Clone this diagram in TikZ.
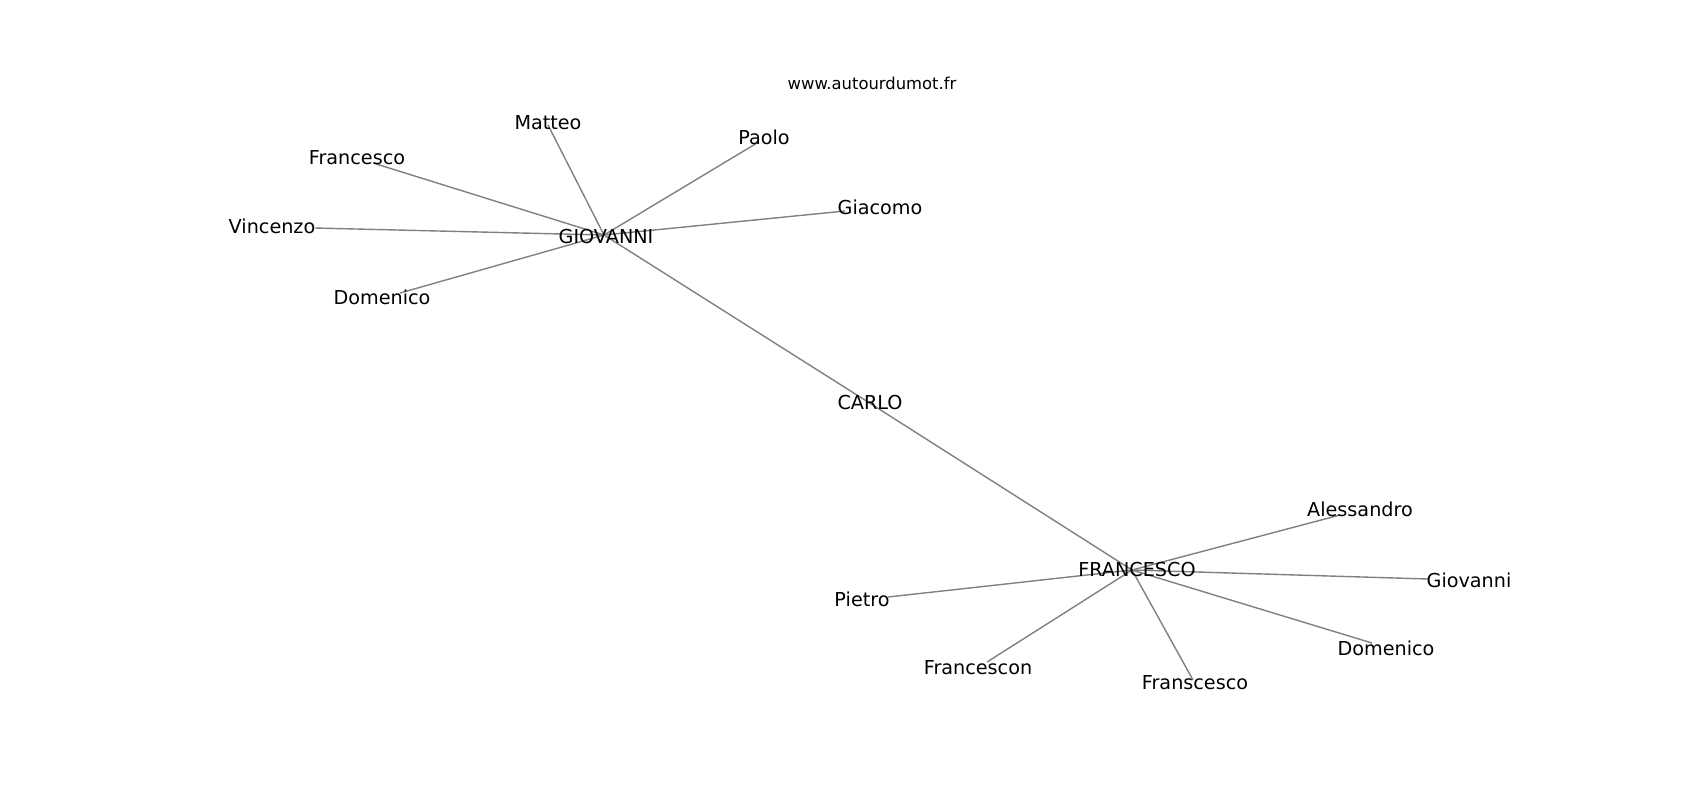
\documentclass[tikz,border=0pt]{standalone}
\usepackage{fontspec}
\setmainfont{DejaVu Sans}
\begin{document}
\begin{tikzpicture}[x=0.5pt,y=-0.5pt,
    edge/.style={draw=black!50,line width=0.7pt},
    label text/.style={inner sep=0pt,font=\fontsize{9.6}{11}\selectfont},
    site text/.style={inner sep=0pt,font=\fontsize{8.2}{10}\selectfont}]
    \useasboundingbox (0,0) rectangle (1700,800);
    % graph vertices
    \coordinate (vGiovanni) at (604,235);
    \coordinate (vMatteo) at (548,125);
    \coordinate (vFrancesco) at (373,163);
    \coordinate (vVincenzo) at (315,228);
    \coordinate (vDomenicoA) at (400,293);
    \coordinate (vPaolo) at (757,143);
    \coordinate (vGiacomo) at (845,211);
    \coordinate (vCarlo) at (868,402);
    \coordinate (vFRANCESCO) at (1132,570);
    \coordinate (vAlessandro) at (1340,515);
    \coordinate (vGiovanniB) at (1428,579);
    \coordinate (vDomenicoB) at (1372,643);
    \coordinate (vFranscesco) at (1193,680);
    \coordinate (vFrancescon) at (987,662);
    \coordinate (vPietro) at (888,597);
    % edges
    \foreach \n in {Matteo,Francesco,Vincenzo,DomenicoA,Paolo,Giacomo,Carlo}
        \draw [edge] (vGiovanni) -- (v\n);
    \foreach \n in {Carlo,Alessandro,GiovanniB,DomenicoB,Franscesco,Francescon,Pietro}
        \draw [edge] (vFRANCESCO) -- (v\n);
    % labels
    \node [site text] (site) at (872,83) {www.autourdumot.fr};
    \node [label text] (lGiovanni) at (606,236) {GIOVANNI};
    \node [label text] (lMatteo) at (548,123) {Matteo};
    \node [label text] (lFrancesco) at (357,158) {Francesco};
    \node [label text] (lVincenzo) at (272,226) {Vincenzo};
    \node [label text] (lDomenicoA) at (382,297) {Domenico};
    \node [label text] (lPaolo) at (764,137) {Paolo};
    \node [label text] (lGiacomo) at (880,207) {Giacomo};
    \node [label text] (lCarlo) at (870,402) {CARLO};
    \node [label text] (lFRANCESCO) at (1137,569) {FRANCESCO};
    \node [label text] (lAlessandro) at (1360,509) {Alessandro};
    \node [label text] (lGiovanniB) at (1469,580) {Giovanni};
    \node [label text] (lDomenicoB) at (1386,648) {Domenico};
    \node [label text] (lFranscesco) at (1195,683) {Franscesco};
    \node [label text] (lFrancescon) at (978,668) {Francescon};
    \node [label text] (lPietro) at (862,599) {Pietro};
\end{tikzpicture}
\end{document}
